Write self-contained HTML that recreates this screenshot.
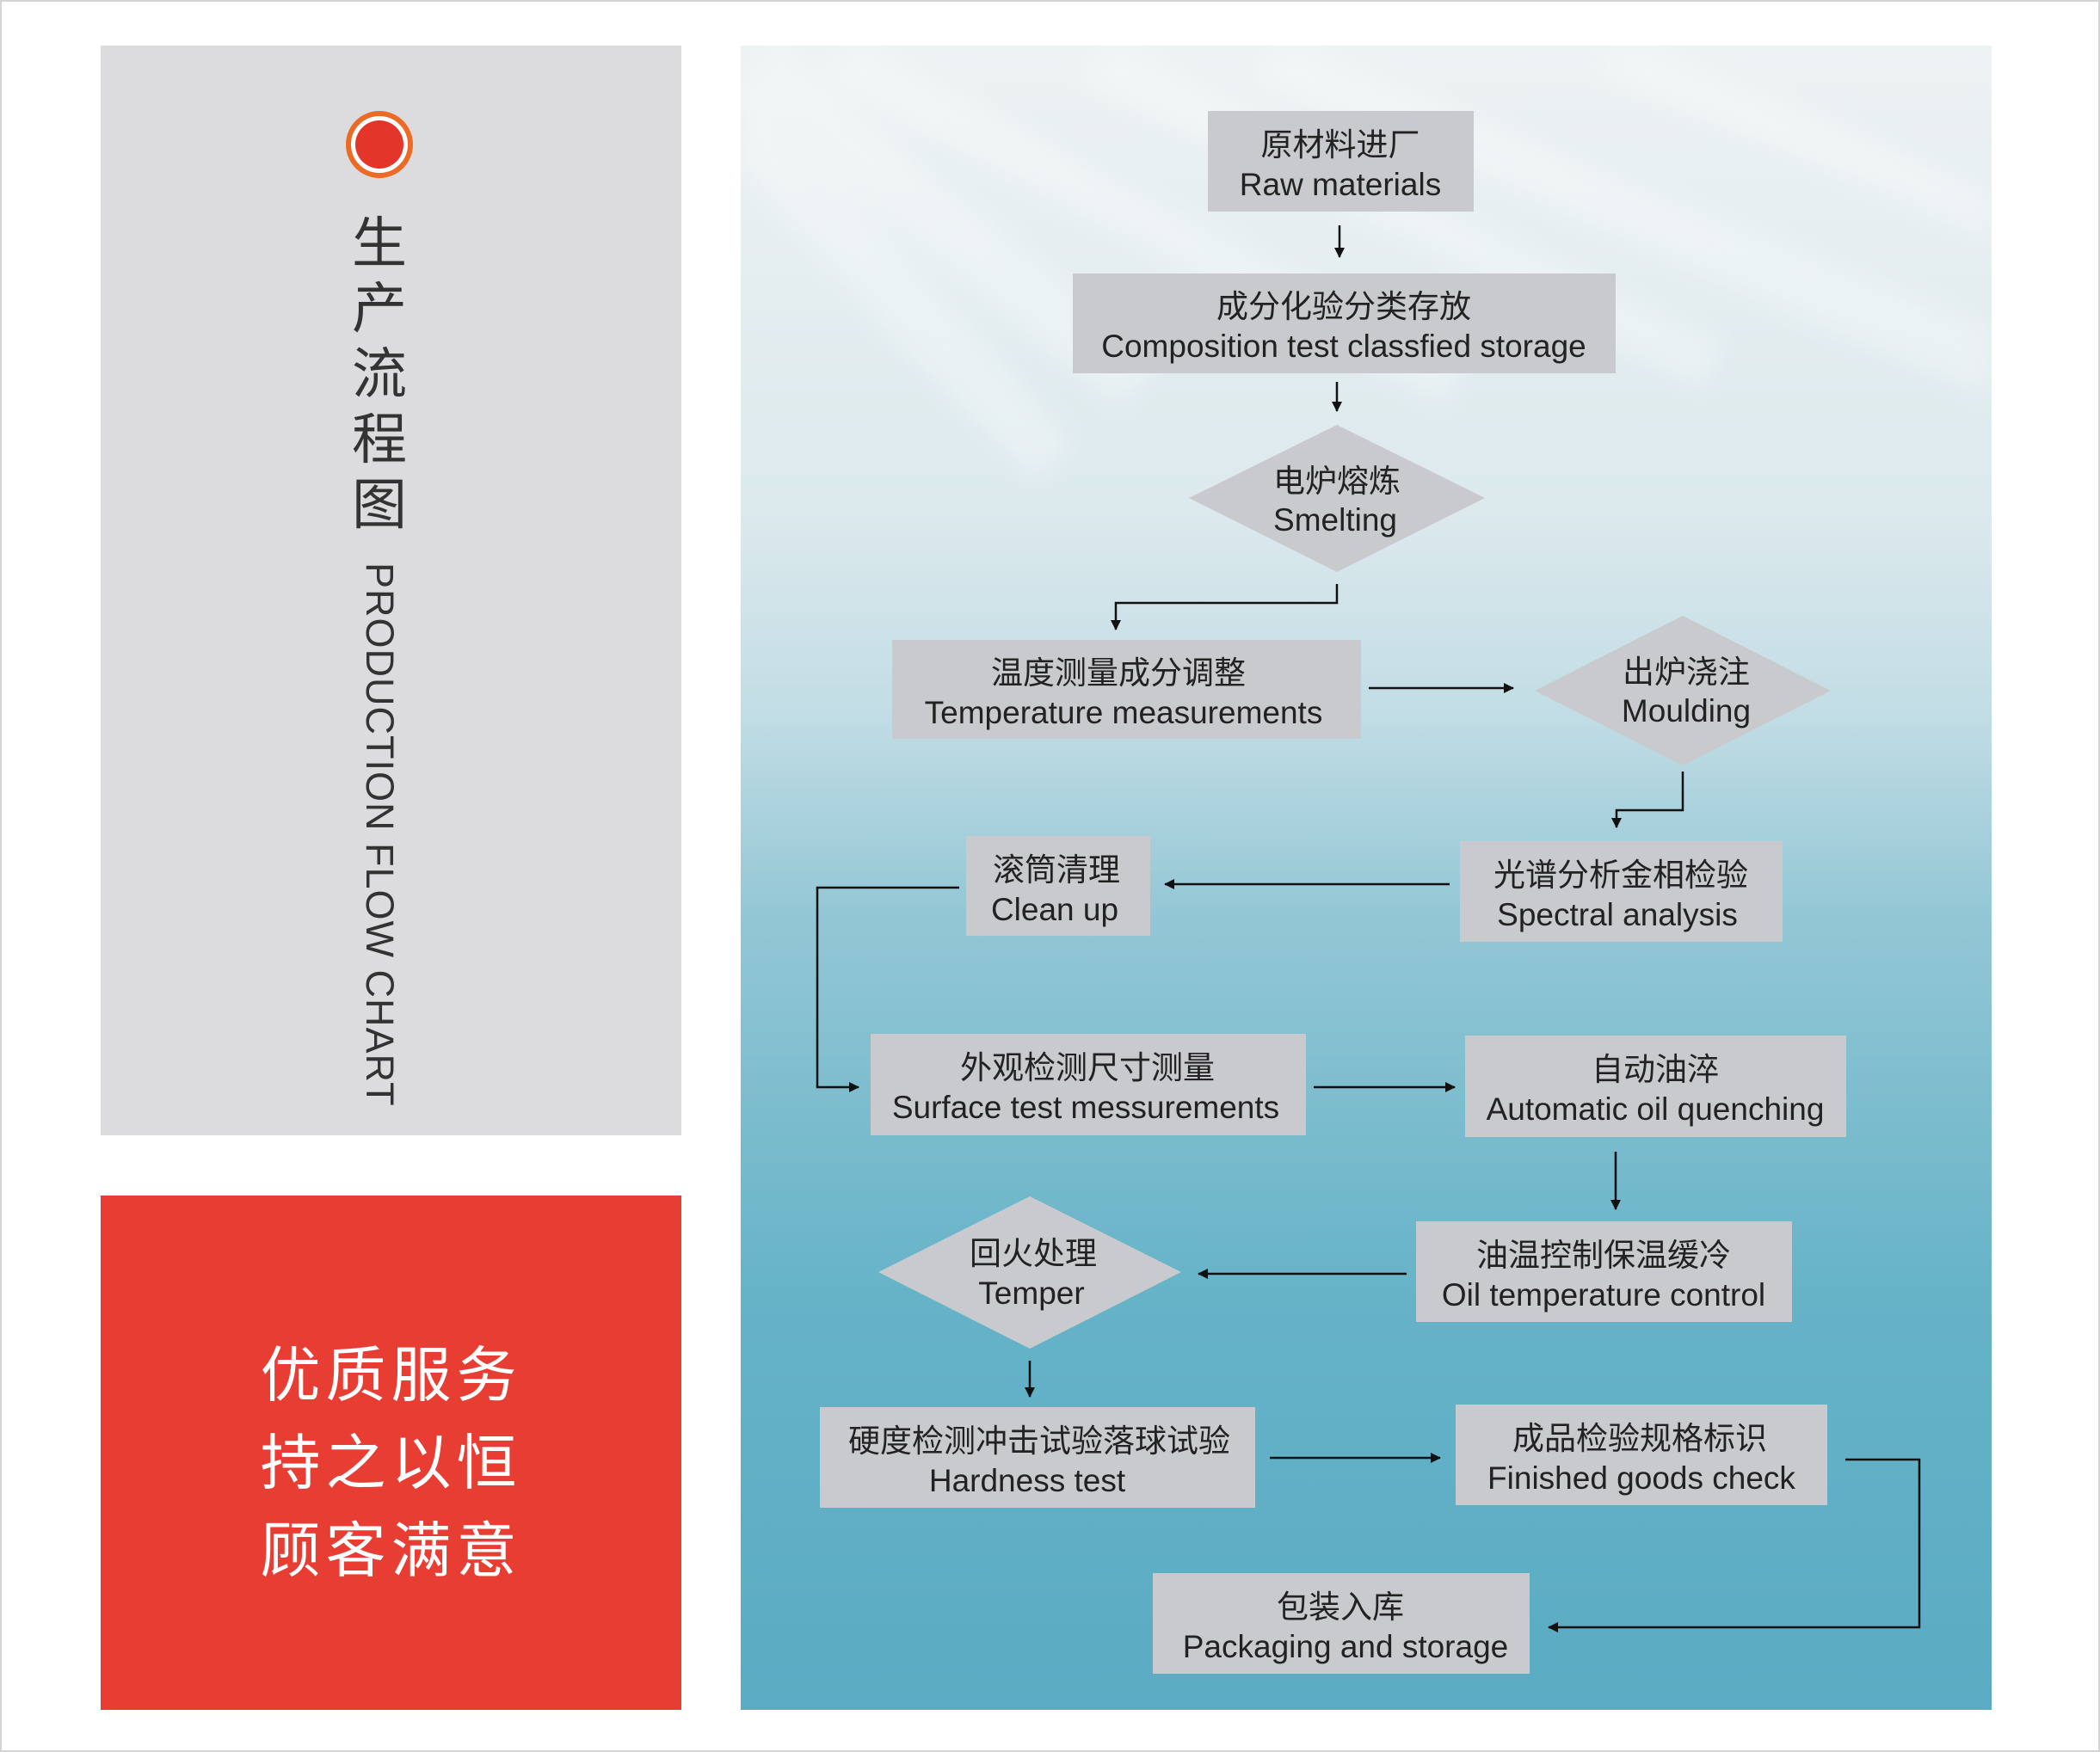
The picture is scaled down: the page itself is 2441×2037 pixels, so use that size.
<!DOCTYPE html>
<html><head><meta charset="utf-8">
<style>
html,body{margin:0;padding:0;}
body{width:2441px;height:2037px;background:#fff;position:relative;overflow:hidden;font-family:"Liberation Sans","Noto Sans CJK SC",sans-serif;}
.frame{position:absolute;left:0;top:0;width:2437px;height:2033px;border:2px solid #d4d4d4;}
.gray{position:absolute;left:117px;top:53px;width:675px;height:1267px;background:#dcdcde;}
.red{position:absolute;left:117px;top:1390px;width:675px;height:598px;background:#e83d33;}
.circle{position:absolute;left:402px;top:129px;width:66px;height:66px;border-radius:50%;border:6px solid #ec6a24;background:#fff;}
.circle div{position:absolute;left:5px;top:5px;width:56px;height:56px;border-radius:50%;background:#e4352a;}
.vc{position:absolute;left:405px;width:72px;text-align:center;font-size:64px;color:#333;line-height:76px;top:245px;}
.ve{position:absolute;left:441px;top:654px;transform-origin:0 0;transform:rotate(90deg) translateY(-50%);font-size:45px;color:#333;white-space:nowrap;letter-spacing:1px;}
.slog{position:absolute;left:117px;width:675px;top:1548px;text-align:center;color:#fff;font-size:70px;line-height:102px;letter-spacing:6px;}
.panel{position:absolute;left:861px;top:53px;width:1454px;height:1935px;}
</style></head><body>
<div class="frame"></div>
<div class="gray"></div>
<div class="circle"><div></div></div>
<div class="vc">生<br>产<br>流<br>程<br>图</div>
<div class="ve">PRODUCTION FLOW CHART</div>
<div class="red"></div>
<div class="slog">优质服务<br>持之以恒<br>顾客满意</div>
<svg class="panel" width="1454" height="1935" viewBox="861 53 1454 1935">
<defs>
<linearGradient id="bg" x1="0" y1="0" x2="0" y2="1">
<stop offset="0" stop-color="#edf2f3"/>
<stop offset="0.28" stop-color="#dce9ed"/>
<stop offset="0.4" stop-color="#c2dde5"/>
<stop offset="0.52" stop-color="#94c7d5"/>
<stop offset="0.75" stop-color="#66b3c8"/>
<stop offset="1" stop-color="#5aabc3"/>
</linearGradient>
<filter id="bl"><feGaussianBlur stdDeviation="14"/></filter>
<marker id="ar" markerWidth="12" markerHeight="12" refX="11" refY="6" orient="auto" markerUnits="userSpaceOnUse"><path d="M0,0 L12,6 L0,12z" fill="#111"/></marker>
</defs>
<rect x="861" y="53" width="1454" height="1935" fill="url(#bg)"/>
<g fill="#fff" opacity="0.3" filter="url(#bl)">
<path d="M861 80 L1250 520 L1200 560 L861 200z"/>
<path d="M900 53 L1350 420 L1300 470 L861 120z"/>
<path d="M1000 53 L1700 420 L1680 470 L950 90z"/>
<path d="M1300 53 L2000 400 L1980 450 L1250 90z"/>
<path d="M1500 53 L2315 380 L2315 460 L1450 90z"/>
<path d="M1900 53 L2315 220 L2315 280 L1850 80z"/>
</g>
<g fill="#c9cacd">
<rect x="1404" y="129" width="309" height="117"/>
<rect x="1247" y="318" width="631" height="116"/>
<polygon points="1382,579 1554,494 1726,579 1554,665"/>
<rect x="1037" y="744" width="545" height="115"/>
<polygon points="1784,803 1956,716 2128,803 1956,890"/>
<rect x="1123" y="972" width="214" height="116"/>
<rect x="1697" y="978" width="375" height="117"/>
<rect x="1012" y="1202" width="506" height="118"/>
<rect x="1703" y="1204" width="443" height="118"/>
<polygon points="1021,1479 1197,1391 1373,1479 1197,1568"/>
<rect x="1646" y="1420" width="437" height="117"/>
<rect x="953" y="1636" width="506" height="117"/>
<rect x="1692" y="1633" width="432" height="117"/>
<rect x="1340" y="1829" width="438" height="117"/>
</g>
<g font-family="Liberation Sans, Noto Sans CJK SC, sans-serif" font-size="37" fill="#222" text-anchor="middle">
<text x="1558" y="181">原材料进厂</text><text x="1558" y="227">Raw materials</text>
<text x="1562" y="369">成分化验分类存放</text><text x="1562" y="415">Composition test classfied storage</text>
<text x="1554" y="572">电炉熔炼</text><text x="1552" y="617">Smelting</text>
<text x="1300" y="795">温度测量成分调整</text><text x="1306" y="841">Temperature measurements</text>
<text x="1960" y="794">出炉浇注</text><text x="1960" y="839">Moulding</text>
<text x="1228" y="1024">滚筒清理</text><text x="1226" y="1070">Clean up</text>
<text x="1884" y="1030">光谱分析金相检验</text><text x="1880" y="1076">Spectral analysis</text>
<text x="1264" y="1254">外观检测尺寸测量</text><text x="1262" y="1300">Surface test messurements</text>
<text x="1924" y="1256">自动油淬</text><text x="1924" y="1302">Automatic oil quenching</text>
<text x="1201" y="1470">回火处理</text><text x="1199" y="1516">Temper</text>
<text x="1864" y="1472">油温控制保温缓冷</text><text x="1864" y="1518">Oil temperature control</text>
<text x="1208" y="1688">硬度检测冲击试验落球试验</text><text x="1194" y="1734">Hardness test</text>
<text x="1906" y="1685">成品检验规格标识</text><text x="1908" y="1731">Finished goods check</text>
<text x="1558" y="1881">包装入库</text><text x="1564" y="1927">Packaging and storage</text>
</g>
<g stroke="#111" stroke-width="2.5" fill="none" marker-end="url(#ar)">
<path d="M1557 262 V299"/>
<path d="M1554 444 V478"/>
<path d="M1554 679 V701 H1297 V732"/>
<path d="M1591 800 H1759"/>
<path d="M1956 897 V942 H1879 V962"/>
<path d="M1685 1028 H1354"/>
<path d="M1115 1032 H950 V1264 H998"/>
<path d="M1527 1264 H1691"/>
<path d="M1878 1339 V1406"/>
<path d="M1635 1481 H1393"/>
<path d="M1197 1582 V1624"/>
<path d="M1476 1695 H1674"/>
<path d="M2145 1697 H2231 V1892 H1800"/>
</g>
</svg>
</body></html>
